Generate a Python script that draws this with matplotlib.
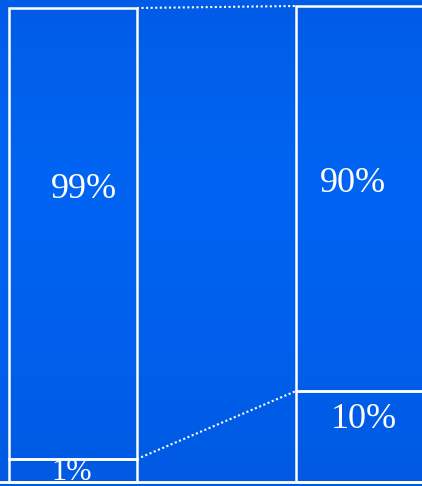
import matplotlib
matplotlib.use("Agg")
import matplotlib.pyplot as plt
import numpy as np

# two stacked columns; heights are the drawn heights
columns = [0, 1]
bottom_heights = [23, 91]
top_heights = [451, 385]
bottom_labels = ["1%", "10%"]
top_labels = ["99%", "90%"]

BAR_WIDTH = 0.445
WHITE = "white"
XLIM = (-0.255, 1.217)

fig = plt.figure(figsize=(4.22, 4.86), dpi=100)
ax = fig.add_axes([0, 0, 1, 1])
ax.set_xlim(*XLIM)
ax.set_ylim(-4, 482)
ax.axis("off")

# blue background, slightly lighter in the middle
colors = np.array([[0, 92, 230], [0, 100, 242], [0, 96, 238], [0, 90, 226]]) / 255.0
t = np.linspace(0, 1, 200)
grad = np.stack([np.interp(t, np.linspace(0, 1, 4), colors[:, i]) for i in range(3)], axis=1)
ax.imshow(grad[:, None, :], aspect="auto", extent=[XLIM[0], XLIM[1], -4, 482],
          origin="upper", zorder=0)

ax.bar(columns, bottom_heights, width=BAR_WIDTH, fill=False,
       edgecolor=WHITE, linewidth=1.8, zorder=2)
ax.bar(columns, top_heights, width=BAR_WIDTH, bottom=bottom_heights, fill=False,
       edgecolor=WHITE, linewidth=1.8, zorder=2)
ax.axhline(0, color=WHITE, linewidth=2, zorder=3)

# dotted connectors between the columns
x0 = columns[0] + BAR_WIDTH / 2
x1 = columns[1] - BAR_WIDTH / 2
tops = [b + h for b, h in zip(bottom_heights, top_heights)]
ax.plot([x0, x1], [tops[0], tops[1]], color=WHITE, linewidth=1.5,
        linestyle=(0, (1, 1.2)), zorder=2)
ax.plot([x0, x1], [bottom_heights[0], bottom_heights[1]], color=WHITE,
        linewidth=1.5, linestyle=(0, (1, 1.2)), zorder=2)

font = dict(family="Liberation Serif", color=WHITE, ha="center", va="center")
ax.text(0.038, 293, top_labels[0], fontsize=26, **font)
ax.text(-0.004, 10, bottom_labels[0], fontsize=22, **font)
ax.text(0.975, 299, top_labels[1], fontsize=26, **font)
ax.text(1.015, 63, bottom_labels[1], fontsize=26, **font)

fig.savefig("out.png", dpi=100)
